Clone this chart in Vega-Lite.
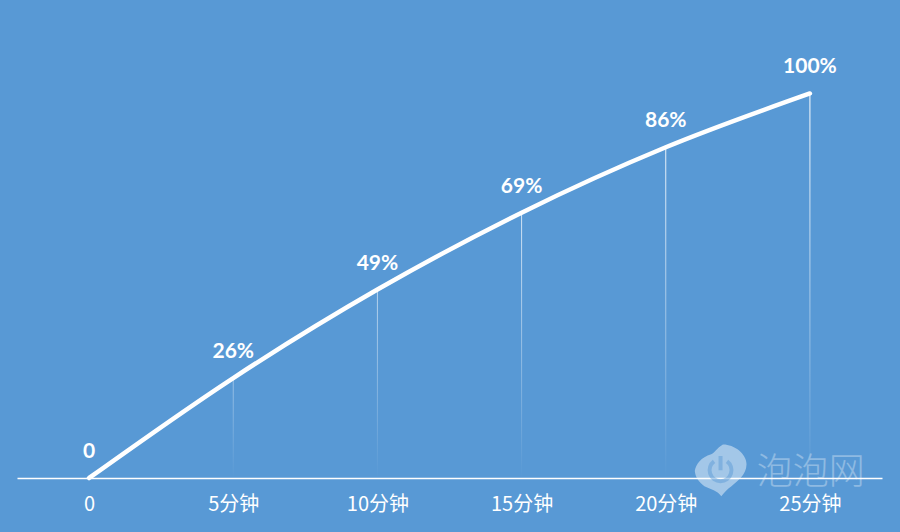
{"$schema":"https://vega.github.io/schema/vega-lite/v6.json","width":865,"height":478,"autosize":"none","padding":{"left":17,"right":18,"top":0,"bottom":54},"background":"#5899D5","view":{"stroke":null},"data":{"values":[{"minute":0,"pct":0,"label":"0"},{"minute":5,"pct":26,"label":"26%"},{"minute":10,"pct":49,"label":"49%"},{"minute":15,"pct":69,"label":"69%"},{"minute":20,"pct":86,"label":"86%"},{"minute":25,"pct":100,"label":"100%"}]},"encoding":{"x":{"field":"minute","type":"quantitative","scale":{"domain":[-2.5,27.5],"nice":false,"zero":false,"padding":0},"axis":{"values":[0,5,10,15,20,25],"grid":false,"ticks":false,"title":null,"domainColor":"#ffffff","domainWidth":1.5,"labelColor":"#ffffff","labelFont":"Noto Sans CJK SC","labelFontSize":20,"labelPadding":16,"labelExpr":"datum.value==0?'0':datum.value+'分钟'"}},"y":{"field":"pct","type":"quantitative","scale":{"domain":[0,124.3],"nice":false,"padding":0},"axis":null}},"layer":[{"data":{"values":[{"minute":21.9,"pct":2,"name":"泡泡网"}]},"mark":{"type":"point","filled":true,"fill":"#ffffff","fillOpacity":0.45,"strokeWidth":0,"size":2704,"shape":"M-0.99,0.03 C-0.95,-0.25 -0.75,-0.5 -0.36,-0.62 C-0.2,-0.68 -0.15,-0.85 0.09,-0.99 C0.5,-1 1,-0.65 1,-0.23 C1,0.2 0.6,0.45 0.42,0.61 C0.25,0.72 0.15,0.85 0.03,1 C-0.1,0.78 -0.4,0.72 -0.62,0.61 C-0.85,0.45 -0.97,0.25 -0.99,0.03 Z"}},{"data":{"values":[{"minute":21.9,"pct":2,"name":"泡泡网"}]},"mark":{"type":"point","filled":false,"stroke":"#5899D5","strokeOpacity":0.65,"strokeWidth":4,"size":2704,"shape":"M-0.25,-0.34 A0.42,0.42 0 1 0 0.25,-0.34 M0,-0.55 L0,0"}},{"data":{"values":[{"minute":25.03,"pct":1.3,"name":"泡泡网"}]},"mark":{"type":"text","font":"Noto Sans CJK SC","fontWeight":300,"fontSize":36,"fill":"#ffffff","opacity":0.32,"align":"center","baseline":"middle"},"encoding":{"text":{"field":"name"}}},{"transform":[{"filter":"datum.pct>0"}],"mark":{"type":"bar","size":1,"fill":{"gradient":"linear","x1":0,"y1":0,"x2":0,"y2":1,"stops":[{"offset":0,"color":"#ffffff"},{"offset":1,"color":"rgba(255,255,255,0)"}]}},"encoding":{"y2":{"datum":0},"opacity":{"field":"pct","type":"quantitative","legend":null,"scale":{"domain":[26,100],"range":[0.4,1]}}}},{"mark":{"type":"line","interpolate":"monotone","stroke":"#ffffff","strokeWidth":4.5,"strokeCap":"round","strokeJoin":"round"}},{"mark":{"type":"text","dy":-26,"align":"center","baseline":"middle","font":"Lato","fontWeight":700,"fontSize":21,"fill":"#ffffff"},"encoding":{"text":{"field":"label"}}}]}
